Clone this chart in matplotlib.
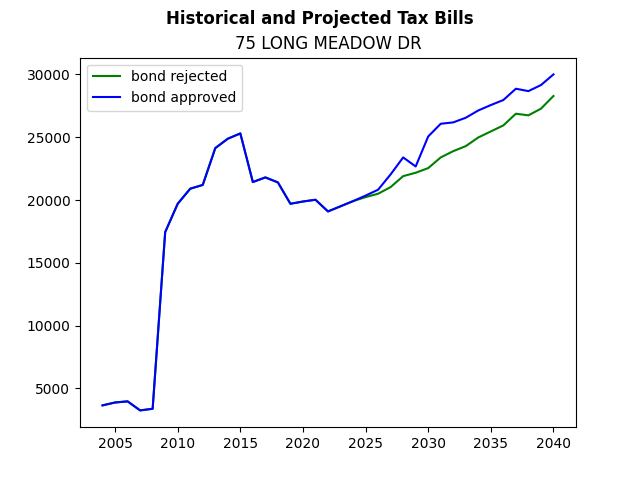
import matplotlib
matplotlib.use("Agg")
import matplotlib.pyplot as plt

years = list(range(2004, 2041))
historical = [3650, 3880, 3970, 3250, 3380, 17440, 19700, 20900, 21200, 24130,
              24880, 25300, 21430, 21800, 21400, 19700, 19880, 20020, 19090, 19500,
              19910]
rejected_future = [20230, 20500, 21030, 21900, 22170, 22540, 23390, 23890, 24290,
                   24980, 25460, 25940, 26870, 26740, 27270, 28280]
approved_future = [20350, 20820, 22040, 23390, 22670, 25060, 26070, 26180, 26550,
                   27130, 27560, 27960, 28860, 28670, 29150, 30000]

rejected = historical + rejected_future
approved = historical + approved_future

fig, ax = plt.subplots(figsize=(6.4, 4.8), dpi=100)
ax.plot(years, rejected, color="green", label="bond rejected")
ax.plot(years, approved, color="blue", label="bond approved")
ax.set_title("75 LONG MEADOW DR")
fig.suptitle("Historical and Projected Tax Bills", fontweight="bold")
ax.legend(loc="upper left")
fig.savefig("out.png")
